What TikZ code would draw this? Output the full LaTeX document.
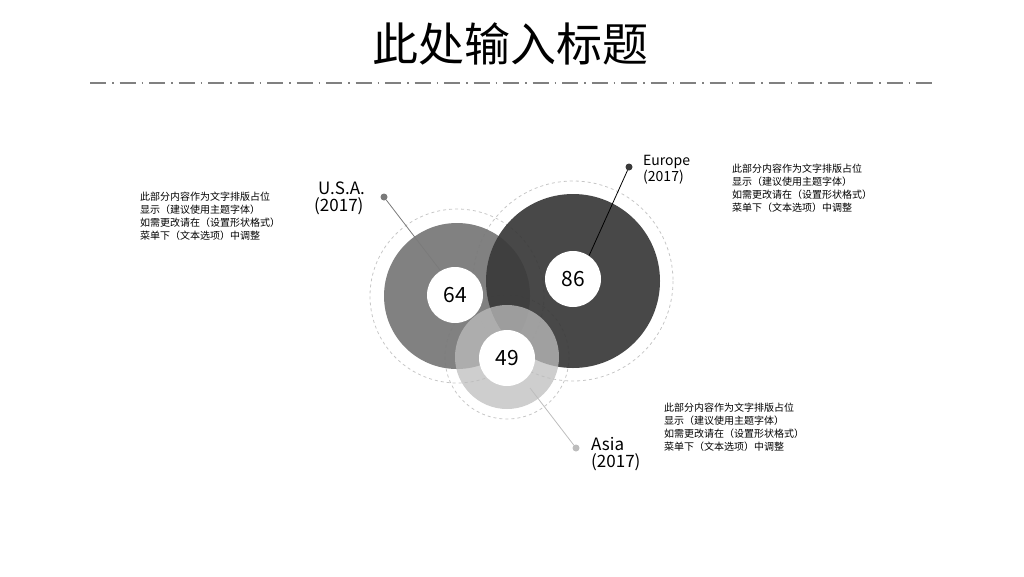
\documentclass[tikz,border=0pt]{standalone}
\usepackage{fontspec}
\setmainfont{Noto Sans CJK SC}
\definecolor{usagray}{HTML}{7A7A7A}
\definecolor{eudark}{HTML}{3A3A3A}
\definecolor{asialight}{HTML}{BDBDBD}
\tikzset{
  ring/.style={draw=gray!45, dashed, line width=0.8pt},
  hole/.style={circle, fill=white, minimum size=56pt, inner sep=0pt, font=\fontsize{21}{21}\selectfont},
  leader/.style={line width=0.8pt},
  pin/.style={circle, inner sep=0pt, minimum size=7pt},
  note/.style={align=left, anchor=north west, inner sep=0pt, font=\fontsize{10}{13}\selectfont},
  tag/.style={align=left, anchor=north west, inner sep=0pt}
}
\begin{document}
\begin{tikzpicture}[x=1pt,y=-1pt]
  \useasboundingbox (0,0) rectangle (1024,576);

  \node (title) at (510,44) {\fontsize{46}{46}\selectfont 此处输入标题};
  \coordinate (ruleL) at (90,83);
  \coordinate (ruleR) at (932,83);
  \draw[gray, line width=1.3pt, dash pattern=on 16pt off 6pt on 1.5pt off 6pt] (ruleL) -- (ruleR);

  % dashed halos
  \draw[ring] (457,296) circle (87);
  \draw[ring] (573,281) circle (100);
  \draw[ring] (507,357) circle (62);

  % discs
  \fill[usagray, opacity=0.95] (457,296) circle (73);
  \fill[eudark, opacity=0.93] (573,281) circle (87);
  \fill[asialight, opacity=0.75] (507,357) circle (52);

  % leaders
  \node[pin, fill=usagray] (usapin) at (384,197) {};
  \node[pin, fill=eudark] (eupin) at (629,167) {};
  \node[pin, fill=asialight] (asiapin) at (576,448) {};
  \coordinate (usaend) at (440,270);
  \coordinate (euend) at (588,258);
  \coordinate (asiaend) at (530,388);
  \draw[leader, usagray] (usapin) -- (usaend);
  \draw[leader, black] (eupin) -- (euend);
  \draw[leader, asialight] (asiapin) -- (asiaend);

  \node[hole] (usaval) at (455,295) {64};
  \node[hole] (euval) at (573,279) {86};
  \node[hole] (asiaval) at (507,358) {49};

  % labels
  \node[tag, font=\fontsize{17}{17}\selectfont] (usatag) at (314,182) {\hspace*{4pt}U.S.A.\\(2017)};
  \node[tag, font=\fontsize{14}{14}\selectfont] (eutag) at (643,155) {Europe\\(2017)};
  \node[tag, font=\fontsize{17}{17}\selectfont] (asiatag) at (591,437) {Asia\\(2017)};

  \node[note] (usanote) at (140,192) {此部分内容作为文字排版占位\\显示（建议使用主题字体）\\如需更改请在（设置形状格式）\\菜单下（文本选项）中调整};
  \node[note] (eunote) at (732,164) {此部分内容作为文字排版占位\\显示（建议使用主题字体）\\如需更改请在（设置形状格式）\\菜单下（文本选项）中调整};
  \node[note] (asianote) at (664,403) {此部分内容作为文字排版占位\\显示（建议使用主题字体）\\如需更改请在（设置形状格式）\\菜单下（文本选项）中调整};
\end{tikzpicture}
\end{document}
